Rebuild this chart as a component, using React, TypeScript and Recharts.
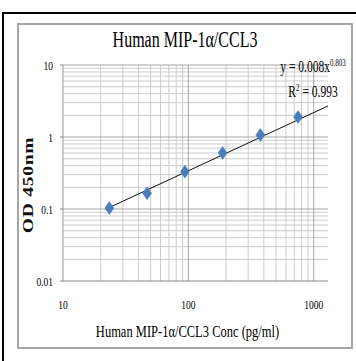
import { ScatterChart, Scatter, XAxis, YAxis, ReferenceLine } from "recharts"

// standard curve points (pg/ml vs OD 450nm)
const concentrations = [23.4375, 46.875, 93.75, 187.5, 375, 750]
const odValues = [0.103, 0.166, 0.33, 0.6, 1.07, 1.9]

const xTicks = [10, 100, 1000]
const yTicks = [0.01, 0.1, 1, 10]
const xMinor = [20, 30, 40, 50, 60, 70, 80, 90, 200, 300, 400, 500, 600, 700, 800, 900]
const yMinor = [
  0.02, 0.03, 0.04, 0.05, 0.06, 0.07, 0.08, 0.09,
  0.2, 0.3, 0.4, 0.5, 0.6, 0.7, 0.8, 0.9,
  2, 3, 4, 5, 6, 7, 8, 9,
]

// power trendline ends
const trendX = [23.4375, 1300]
const trendY = [0.105, 2.7]

const FONT = "'Liberation Serif', 'DejaVu Serif', serif"
const STRETCH = 1.4

const points = concentrations.map((x, i) => ({ x, y: odValues[i] }))

const Diamond = (props: any) => {
  const { cx, cy } = props
  if (cx == null || cy == null) return null
  return (
    <polygon
      points={`${cx},${cy - 6.5} ${cx + 4.5},${cy} ${cx},${cy + 6.5} ${cx - 4.5},${cy}`}
      fill="#4a7ebb"
      stroke="#4a7ebb"
      strokeWidth={0.5}
    />
  )
}

const XTick = (props: any) => {
  const { x, y, payload } = props
  return (
    <text
      transform={`translate(${x},${y}) scale(1,${STRETCH})`}
      textAnchor="middle"
      dy="0.71em"
      fontSize={9.5}
      fontFamily={FONT}
      fill="#000"
    >
      {payload.value}
    </text>
  )
}

const YTick = (props: any) => {
  const { x, y, payload } = props
  return (
    <text
      transform={`translate(${x},${y}) scale(1,${STRETCH})`}
      textAnchor="end"
      dy="0.355em"
      fontSize={9.5}
      fontFamily={FONT}
      fill="#000"
    >
      {payload.value}
    </text>
  )
}

const label = (left: number, top: number): React.CSSProperties => ({
  position: "absolute",
  left,
  top,
  transform: `translate(-50%, -50%) scaleY(${STRETCH})`,
  whiteSpace: "nowrap",
  fontFamily: FONT,
  color: "#000",
  lineHeight: 1,
})

export default function App() {
  return (
    <div style={{ position: "absolute", left: 0, top: 0, width: 356, height: 361, background: "#fff" }}>
      {/* outer frame */}
      <div style={{ position: "absolute", left: 2, top: 12, width: 354, height: 2, background: "#000" }} />
      <div style={{ position: "absolute", left: 2, top: 12, width: 2, height: 349, background: "#000" }} />
      <div
        style={{
          position: "absolute",
          left: 17,
          top: 23,
          width: 336,
          height: 326,
          boxSizing: "border-box",
          border: "2px solid #a6a6a6",
        }}
      />

      <div style={{ position: "absolute", left: 0, top: 0 }}>
        <ScatterChart width={356} height={361} margin={{ top: 65, right: 28, bottom: 50, left: 13 }}>
          <XAxis
            type="number"
            dataKey="x"
            scale="log"
            domain={[10, 1300]}
            allowDataOverflow
            ticks={xTicks}
            tickLine={false}
            tickSize={0}
            tickMargin={19}
            height={30}
            axisLine={{ stroke: "#868686" }}
            tick={<XTick />}
          />
          <YAxis
            type="number"
            dataKey="y"
            scale="log"
            domain={[0.01, 10]}
            allowDataOverflow
            ticks={yTicks}
            tickSize={3}
            tickMargin={7}
            width={50}
            axisLine={{ stroke: "#9a9a9a" }}
            tickLine={{ stroke: "#868686" }}
            tick={<YTick />}
          />
          {xMinor.map((v) => (
            <ReferenceLine key={"xm" + v} x={v} stroke="#cccccc" strokeWidth={1} />
          ))}
          {yMinor.map((v) => (
            <ReferenceLine key={"ym" + v} y={v} stroke="#cccccc" strokeWidth={1} />
          ))}
          {xTicks.slice(1).map((v) => (
            <ReferenceLine key={"xM" + v} x={v} stroke="#a6a6a6" strokeWidth={1} />
          ))}
          {yTicks.slice(1).map((v) => (
            <ReferenceLine key={"yM" + v} y={v} stroke="#a6a6a6" strokeWidth={1} />
          ))}
          <ReferenceLine
            segment={[
              { x: trendX[0], y: trendY[0] },
              { x: trendX[1], y: trendY[1] },
            ]}
            stroke="#111"
            strokeWidth={1}
            ifOverflow="extendDomain"
          />
          <Scatter data={points} shape={<Diamond />} isAnimationActive={false} />
        </ScatterChart>
      </div>

      <div style={{ ...label(185, 40), fontSize: 16 }}>Human MIP-1α/CCL3</div>
      <div style={{ ...label(187.5, 332), fontSize: 12.5 }}>Human MIP-1α/CCL3 Conc (pg/ml)</div>
      <div
        style={{
          position: "absolute",
          left: 29,
          top: 185,
          transform: `translate(-50%, -50%) scaleY(${STRETCH}) rotate(-90deg)`,
          whiteSpace: "nowrap",
          fontFamily: FONT,
          fontWeight: "bold",
          fontSize: 14,
          letterSpacing: 0.5,
          lineHeight: 1,
          color: "#111",
        }}
      >
        OD 450nm
      </div>
      <div style={{ ...label(313, 67), fontSize: 11.5 }}>
        y = 0.008x<span style={{ fontSize: 7, position: "relative", top: -4 }}>0.803</span>
      </div>
      <div style={{ ...label(313, 92), fontSize: 11.5 }}>
        R<span style={{ fontSize: 7, position: "relative", top: -4 }}>2</span> = 0.993
      </div>
    </div>
  )
}
